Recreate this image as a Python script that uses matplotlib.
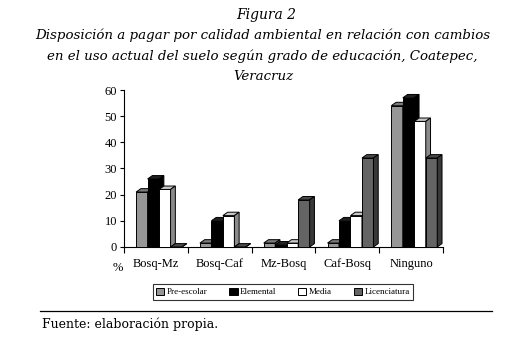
import matplotlib.pyplot as plt
import numpy as np
from matplotlib.patches import Polygon, Patch

categorias = ['Bosq-Mz', 'Bosq-Caf', 'Mz-Bosq', 'Caf-Bosq', 'Ninguno']
niveles = ['Pre-escolar', 'Elemental', 'Media', 'Licenciatura']
pre_escolar = [21, 1.5, 1.5, 1.5, 54]
elemental = [26, 10, 0.8, 10, 57]
media = [22, 12, 1.5, 12, 48]
licenciatura = [0, 0, 18, 34, 34]

series = [pre_escolar, elemental, media, licenciatura]
# colores: frente, lado, arriba
colores = [('#969696', '#5a5a5a', '#7a7a7a'),
           ('#000000', '#000000', '#202020'),
           ('#ffffff', '#8a8a8a', '#c8c8c8'),
           ('#646464', '#383838', '#4a4a4a')]

fig = plt.figure(figsize=(5.13, 3.39), dpi=100)
ax = fig.add_axes([0.2417, 0.2714, 0.6218, 0.4631])

x = np.arange(len(categorias))
ancho = 0.18
dx, dy = 0.075, 1.3  # profundidad del efecto 3D

for k, vals in enumerate(series):
    cf, cs, ct = colores[k]
    izq = x - 0.5 + 0.19 + k * ancho
    ax.bar(izq, vals, width=ancho, align='edge', color=cf,
           edgecolor='black', linewidth=0.7, zorder=3 + k)
    for xi, v in zip(izq, vals):
        # cara superior
        ax.add_patch(Polygon([(xi, v), (xi + ancho, v), (xi + ancho + dx, v + dy), (xi + dx, v + dy)],
                             closed=True, facecolor=ct, edgecolor='black', linewidth=0.7, zorder=3 + k))
        # cara lateral
        ax.add_patch(Polygon([(xi + ancho, 0), (xi + ancho + dx, dy), (xi + ancho + dx, v + dy), (xi + ancho, v)],
                             closed=True, facecolor=cs, edgecolor='black', linewidth=0.7, zorder=3 + k))

ax.set_xlim(-0.5, 4.5)
ax.set_ylim(0, 60)
ax.set_yticks(range(0, 61, 10))
ax.set_xticks(np.arange(-0.5, 5, 1))
ax.set_xticklabels([])
ax.set_xticks(x, minor=True)
ax.set_xticklabels(categorias, minor=True, fontsize=9, family='Liberation Serif')
ax.tick_params(axis='x', which='minor', length=0, pad=8)
ax.tick_params(axis='x', which='major', length=4, direction='out', width=0.8)
ax.tick_params(axis='y', length=3, direction='out', width=0.8, pad=2)
for lab in ax.get_yticklabels():
    lab.set_family('Liberation Serif')
    lab.set_fontsize(9)
ax.spines['top'].set_visible(False)
ax.spines['right'].set_visible(False)
ax.spines['left'].set_linewidth(0.8)
ax.spines['bottom'].set_linewidth(0.8)

fig.text(118 / 513, 1 - 268 / 339, '%', fontsize=9, family='Liberation Serif', ha='center', va='center')

# título
tfont = dict(family='DejaVu Serif', style='italic', ha='center', va='center')
fig.text(0.519, 1 - 15 / 339, 'Figura 2', fontsize=10, **tfont)
fig.text(0.513, 1 - 35 / 339, 'Disposición a pagar por calidad ambiental en relación con cambios', fontsize=9.6, **tfont)
fig.text(0.511, 1 - 56 / 339, 'en el uso actual del suelo según grado de educación, Coatepec,', fontsize=9.6, **tfont)
fig.text(0.513, 1 - 77 / 339, 'Veracruz', fontsize=9.6, **tfont)

# leyenda
handles = [Patch(facecolor=c[0], edgecolor='black', linewidth=0.7) for c in colores]
leg = fig.legend(handles, niveles, loc='center', bbox_to_anchor=(283 / 513, 1 - 292 / 339), ncol=4,
                 prop={'family': 'Liberation Serif', 'size': 6.5}, frameon=True, fancybox=False,
                 handlelength=0.9, handleheight=0.9, handletextpad=0.3, columnspacing=2.4,
                 borderpad=0.35)
leg.get_frame().set_edgecolor('black')
leg.get_frame().set_linewidth(0.8)

# línea y fuente
fig.add_artist(plt.Line2D([40 / 513, 492 / 513], [1 - 311 / 339, 1 - 311 / 339], color='black', linewidth=0.9))
fig.text(42 / 513, 1 - 324 / 339, 'Fuente: elaboración propia.', family='DejaVu Serif', fontsize=9,
         ha='left', va='center')

fig.savefig('out.png', dpi=100)
